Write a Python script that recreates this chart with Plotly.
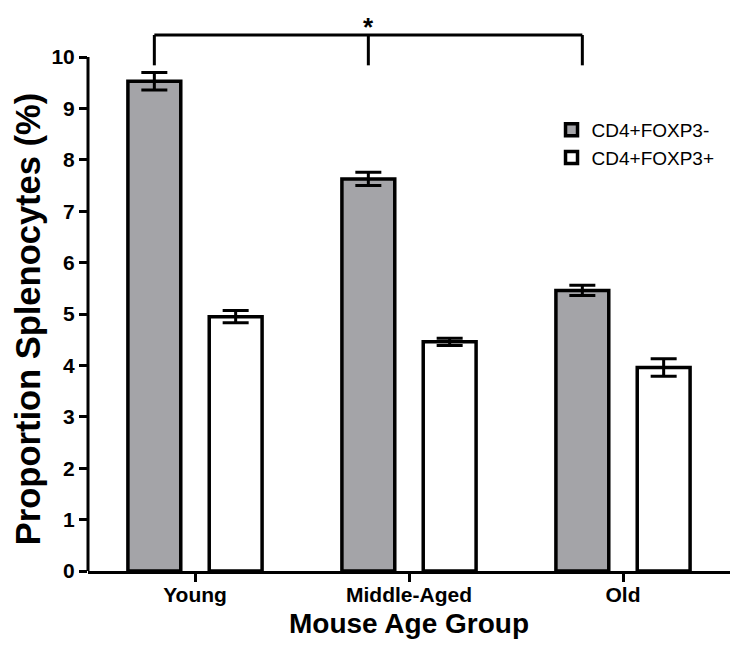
import plotly.graph_objects as go

# ---- data ----
categories = ["Young", "Middle-Aged", "Old"]
foxp3_neg = [9.53, 7.63, 5.46]
foxp3_neg_err = [0.17, 0.13, 0.10]
foxp3_pos = [4.95, 4.46, 3.96]
foxp3_pos_err = [0.12, 0.07, 0.17]
series_names = ["CD4+FOXP3-", "CD4+FOXP3+"]
y_ticks = list(range(0, 11))

FONT = "Liberation Sans, Arial, sans-serif"
BARGAP = 0.24
BARGROUPGAP = 0.35

fig = go.Figure()
fig.add_trace(go.Bar(
    name=series_names[0], x=categories, y=foxp3_neg,
    marker=dict(color="#a4a4a8", line=dict(color="black", width=3.5)),
    error_y=dict(type="data", array=foxp3_neg_err, visible=True,
                 color="black", thickness=3, width=13),
))
fig.add_trace(go.Bar(
    name=series_names[1], x=categories, y=foxp3_pos,
    marker=dict(color="white", line=dict(color="black", width=3.5)),
    error_y=dict(type="data", array=foxp3_pos_err, visible=True,
                 color="black", thickness=3, width=13),
))

# significance bracket over the CD4+FOXP3- bars
slot = (1 - BARGAP) / 2
off = -slot / 2
gx = [i + off for i in range(len(categories))]
y_top = 10.43
y_drop = 9.84
shapes = [
    # y axis line only from 0 to 10
    dict(type="line", xref="paper", yref="y", x0=0, x1=0, y0=0, y1=10,
         line=dict(color="black", width=3)),
    dict(type="line", xref="x", yref="y", x0=gx[0], x1=gx[2], y0=y_top, y1=y_top,
         line=dict(color="black", width=3)),
]
for g in gx:
    shapes.append(dict(type="line", xref="x", yref="y", x0=g, x1=g, y0=y_drop, y1=y_top,
                       line=dict(color="black", width=3)))

# page body has an 8px margin; size the figure to fit inside the window
fig.update_layout(
    width=723, height=647,
    margin=dict(l=80, r=1, t=8, b=84),
    paper_bgcolor="white", plot_bgcolor="white",
    barmode="group", bargap=BARGAP, bargroupgap=BARGROUPGAP,
    font=dict(family=FONT, color="black"),
    shapes=shapes,
    showlegend=True,
    legend=dict(x=0.722, y=0.829, xanchor="left", yanchor="top",
                font=dict(family=FONT, size=19, color="black"),
                bgcolor="rgba(0,0,0,0)", borderwidth=0),
    annotations=[
        dict(text="<b>*</b>", x=(gx[1]), y=10.79, xref="x", yref="y",
             showarrow=False, font=dict(size=26, color="black"),
             xanchor="center", yanchor="top", yshift=6, borderpad=0),
        dict(text="<b>Proportion Splenocytes (%)</b>", xref="paper", yref="y",
             x=0, y=4.9, xshift=-60, textangle=-90, showarrow=False,
             font=dict(size=34.5, color="black"), xanchor="center", yanchor="middle"),
    ],
)
fig.update_xaxes(
    showline=True, linecolor="black", linewidth=3,
    ticks="outside", ticklen=8, tickwidth=3, tickcolor="black",
    tickfont=dict(size=21, family=FONT, color="black"),
    ticklabelstandoff=-5,
    tickprefix="<b>", ticksuffix="</b>",
    title=dict(text="<b>Mouse Age Group</b>", font=dict(size=28, color="black"), standoff=9),
    showgrid=False, zeroline=False, fixedrange=True,
)
fig.update_yaxes(
    range=[0, 10.8], showline=False,
    tickmode="array", tickvals=y_ticks, ticktext=[f"<b>{v}</b>" for v in y_ticks],
    ticks="outside", ticklen=8, tickwidth=3, tickcolor="black",
    tickfont=dict(size=21, family=FONT, color="black"),
    showgrid=False, zeroline=False, fixedrange=True,
)

fig.write_html("out.html")
